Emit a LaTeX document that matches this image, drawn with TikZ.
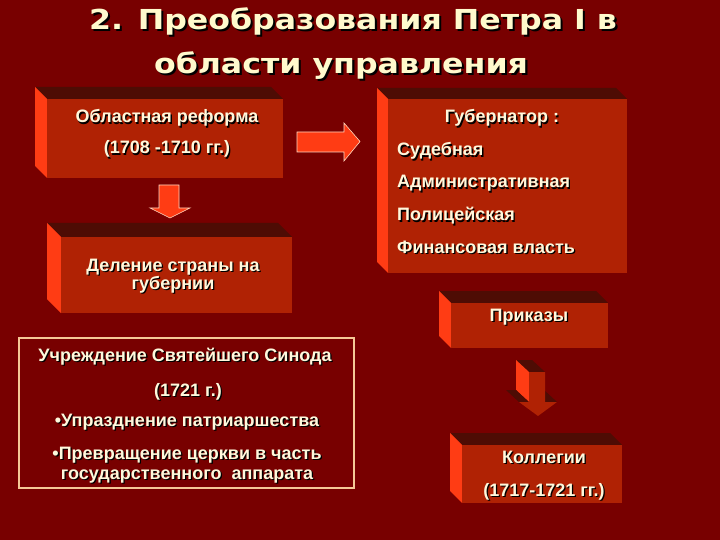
\documentclass[tikz,border=0pt]{standalone}
\usepackage{fontspec}
\setmainfont{Liberation Sans}
\newfontfamily\titlefont{DejaVu Sans}
\definecolor{bgc}{RGB}{120,0,0}
\definecolor{frontc}{RGB}{176,34,4}
\definecolor{sidec}{RGB}{255,60,20}
\definecolor{topc}{RGB}{78,12,4}
\definecolor{txtc}{RGB}{255,248,220}
\definecolor{ttlc}{RGB}{255,250,205}
\definecolor{framec}{RGB}{245,200,150}
\definecolor{edgec}{RGB}{255,215,190}
\newcommand\sh[1]{\makebox[0pt][l]{\hspace{1.3pt}\raisebox{-1.3pt}{\color{black}#1}}#1}
\newcommand\shb[1]{\makebox[0pt][l]{\hspace{1.8pt}\raisebox{-1.8pt}{\color{black}#1}}#1}
% 3D box: name, x1, y1, x2, y2, depth
\newcommand\boxthree[6]{%
  \fill[topc] (#2,#3) -- (#2-#6,#3-#6) -- (#4-#6,#3-#6) -- (#4,#3) -- cycle;
  \fill[sidec] (#2,#3) -- (#2-#6,#3-#6) -- (#2-#6,#5-#6) -- (#2,#5) -- cycle;
  \node[frontbox, anchor=north west, minimum width={(#4-#2)*1pt}, minimum height={(#5-#3)*1pt}] (#1) at (#2,#3) {};
}
\begin{document}
\begin{tikzpicture}[x=1pt,y=-1pt,
  frontbox/.style={fill=frontc, inner sep=0pt, outer sep=0pt},
  txt/.style={text=txtc, font=\bfseries\fontsize{18}{21}\selectfont, inner sep=0pt},
  ttl/.style={text=ttlc, font=\titlefont\bfseries\fontsize{27.5}{32}\selectfont, inner sep=0pt},
  blockarrow/.style={fill=sidec, draw=edgec, line width=0.6pt, line join=miter}]
\fill[bgc] (0,0) rectangle (720,540);
\useasboundingbox (0,0) rectangle (720,540);

% title
\node[ttl, anchor=base] (t1) at (353,30) {\scalebox{1.15}[1]{\shb{2. Преобразования Петра I в}}};
\node[ttl, anchor=base] (t2) at (341,74) {\scalebox{1.15}[1]{\shb{области управления}}};

% boxes
\boxthree{b1}{47}{99}{283}{178}{12}
\boxthree{b2}{388}{99}{627}{273}{11}
\boxthree{b3}{61}{237}{292}{313}{14}
\boxthree{b4}{451}{303}{608}{348}{12}
\boxthree{b5}{462}{445}{622}{503}{12}

% box 1 text
\node[txt, anchor=base] (b1a) at (167,123) {\sh{Областная реформа}};
\node[txt, anchor=base] (b1b) at (167,154) {\sh{(1708 -1710 гг.)}};
% box 2 text
\node[txt, anchor=base] (b2a) at (502,123) {\sh{Губернатор :}};
\node[txt, anchor=base west] (b2b) at (397,156) {\sh{Судебная}};
\node[txt, anchor=base west] (b2c) at (397,188) {\sh{Административная}};
\node[txt, anchor=base west] (b2d) at (397,221) {\sh{Полицейская}};
\node[txt, anchor=base west] (b2e) at (397,253) {\sh{Финансовая власть}};
% box 3 text
\node[txt, anchor=base] (b3a) at (173,271) {\sh{Деление страны на}};
\node[txt, anchor=base] (b3b) at (173,289) {\sh{губернии}};
% box 4 text
\node[txt, anchor=base] (b4a) at (529,321) {\sh{Приказы}};
% box 5 text
\node[txt, anchor=base] (b5a) at (544,463) {\sh{Коллегии}};
\node[txt, anchor=base] (b5b) at (544,496) {\sh{(1717-1721 гг.)}};

% synod frame
\node[draw=framec, line width=2.5pt, minimum width=335pt, minimum height=150pt, inner sep=0pt] (syn) at (186.5,413) {};
\node[txt, anchor=base] (s1) at (185,361) {\sh{Учреждение Святейшего Синода}};
\node[txt, anchor=base] (s2) at (188,396) {\sh{(1721 г.)}};
\node[txt, anchor=base] (s3) at (187,426) {\sh{•Упразднение патриаршества}};
\node[txt, anchor=base] (s4) at (187,459) {\sh{•Превращение церкви в часть}};
\node[txt, anchor=base] (s5) at (187,479) {\sh{государственного\ \ аппарата}};

% right block arrow
\filldraw[blockarrow] (297,132) -- (344,132) -- (344,123) -- (360,141.5) -- (344,161) -- (344,152) -- (297,152) -- cycle;
% down block arrow
\filldraw[blockarrow] (159,185) -- (179,185) -- (179,208) -- (190,208) -- (170,218) -- (150,208) -- (159,208) -- cycle;
% 3D down arrow
\fill[topc] (516,360) -- (532,360) -- (545,372) -- (529,372) -- cycle;
\fill[sidec] (516,360) -- (529,372) -- (529,402) -- (516,390) -- cycle;
\fill[topc] (506,390) -- (516,390) -- (529,402) -- (519,402) -- cycle;
\fill[topc] (532,390) -- (544,390) -- (557,402) -- (545,402) -- cycle;
\fill[frontc] (529,372) -- (545,372) -- (545,402) -- (557,402) -- (538,416) -- (519,402) -- (529,402) -- cycle;
\end{tikzpicture}
\end{document}
